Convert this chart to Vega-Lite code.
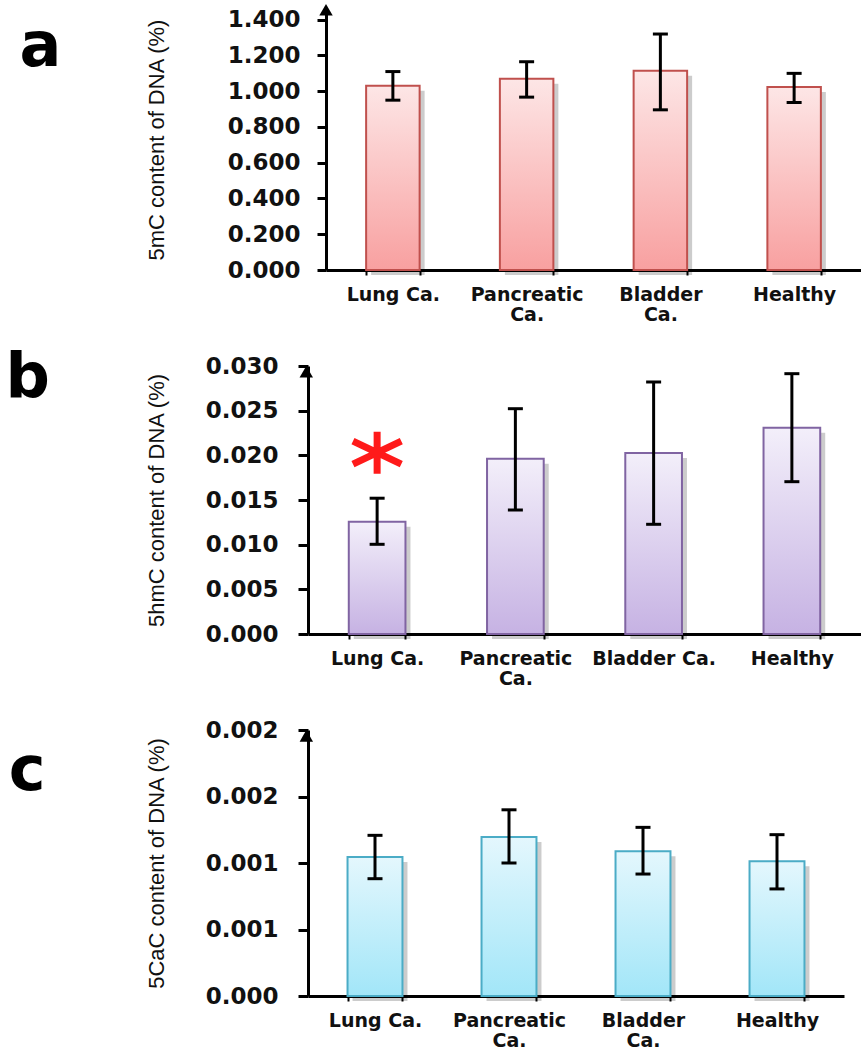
{
  "$schema": "https://vega.github.io/schema/vega-lite/v6.json",
  "padding": {"left": 5, "top": 3, "right": 0, "bottom": 0},
  "background": "white",
  "datasets": {
    "a": [
      {"group": "Lung Ca.", "mean": 1.03, "lo": 0.95, "hi": 1.11},
      {"group": "Pancreatic Ca.", "mean": 1.07, "lo": 0.967, "hi": 1.165},
      {"group": "Bladder Ca.", "mean": 1.114, "lo": 0.896, "hi": 1.32},
      {"group": "Healthy", "mean": 1.023, "lo": 0.937, "hi": 1.10}
    ],
    "b": [
      {"group": "Lung Ca.", "mean": 0.01257, "lo": 0.01004, "hi": 0.0152},
      {"group": "Pancreatic Ca.", "mean": 0.01962, "lo": 0.01388, "hi": 0.02522},
      {"group": "Bladder Ca.", "mean": 0.02026, "lo": 0.01228, "hi": 0.02821},
      {"group": "Healthy", "mean": 0.0231, "lo": 0.01705, "hi": 0.02914}
    ],
    "c": [
      {"group": "Lung Ca.", "mean": 0.001045, "lo": 0.000882, "hi": 0.001208},
      {"group": "Pancreatic Ca.", "mean": 0.001195, "lo": 0.001, "hi": 0.0014},
      {"group": "Bladder Ca.", "mean": 0.001088, "lo": 0.000917, "hi": 0.001268},
      {"group": "Healthy", "mean": 0.001013, "lo": 0.000805, "hi": 0.001213}
    ]
  },
  "columns": 1,
  "bounds": "flush",
  "spacing": 96,
  "concat": [
    {
      "width": 553,
      "height": 261,
      "data": {"name": "a"},
      "title": {"text": "a", "orient": "left", "angle": 0, "anchor": "end", "align": "right", "baseline": "top", "offset": 42, "dy": 13, "font": "DejaVu Sans", "fontWeight": "bold", "fontSize": 62, "color": "#000"},
      "encoding": {
        "x": {"field": "group", "type": "nominal", "sort": null,
          "scale": {"paddingInner": 0.6, "paddingOuter": 0.3, "range": [18, 553]},
          "axis": {"title": null, "labelAngle": 0, "labelFont": "DejaVu Sans", "labelFontWeight": "bold", "labelFontSize": 19, "labelPadding": 10, "labelLineHeight": 20, "tickSize": 5, "tickWidth": 2, "tickBand": "extent",
            "labelExpr": "datum.value == 'Pancreatic Ca.' ? ['Pancreatic', 'Ca.'] : datum.value == 'Bladder Ca.' ? ['Bladder', 'Ca.'] : datum.label"}}
      },
      "layer": [
        {"mark": {"type": "bar", "fill": "#000", "fillOpacity": 0.2, "xOffset": 5, "yOffset": 5},
          "encoding": {"y": {"field": "mean", "type": "quantitative", "scale": {"domain": [0, 1.46], "nice": false},
            "axis": {"title": "5mC content of DNA (%)", "offset": -18, "values": [0, 0.2, 0.4, 0.6, 0.8, 1.0, 1.2, 1.4], "tickCount": 8, "format": ".3f", "titleFont": "Liberation Sans", "titleFontSize": 22, "titleFontWeight": "normal", "titleColor": "#111", "titlePadding": 59, "labelFont": "DejaVu Sans", "labelFontWeight": "bold", "labelFontSize": 23, "labelPadding": 17, "tickSize": 9, "tickWidth": 3, "labelOverlap": false, "labelBound": false}}}},
        {"mark": {"type": "bar", "stroke": "#c0504d", "strokeWidth": 2,
            "fill": {"gradient": "linear", "x1": 0, "y1": 0, "x2": 0, "y2": 1, "stops": [{"offset": 0, "color": "#fde6e6"}, {"offset": 1, "color": "#f8a0a0"}]}},
          "encoding": {"y": {"field": "mean", "type": "quantitative", "title": "5mC content of DNA (%)"}}},
        {"mark": {"type": "rule", "color": "#000", "strokeWidth": 3},
          "encoding": {"y": {"field": "lo", "type": "quantitative", "title": "5mC content of DNA (%)"}, "y2": {"field": "hi"}}},
        {"mark": {"type": "tick", "color": "#000", "thickness": 3, "size": 15, "opacity": 1},
          "encoding": {"y": {"field": "lo", "type": "quantitative", "title": "5mC content of DNA (%)"}}},
        {"mark": {"type": "tick", "color": "#000", "thickness": 3, "size": 15, "opacity": 1},
          "encoding": {"y": {"field": "hi", "type": "quantitative", "title": "5mC content of DNA (%)"}}},
        {"data": {"values": [{"top": 1.456}]},
          "mark": {"type": "point", "shape": "triangle-up", "filled": true, "color": "#000", "size": 180, "opacity": 1},
          "encoding": {"x": {"datum": "Lung Ca.", "bandPosition": -0.75}, "y": {"field": "top", "type": "quantitative", "title": "5mC content of DNA (%)"}}}
      ]
    },
    {
      "width": 553,
      "height": 268,
      "data": {"name": "b"},
      "title": {"text": "b", "orient": "left", "angle": 0, "anchor": "end", "align": "right", "baseline": "top", "offset": 51, "dy": -7, "font": "DejaVu Sans", "fontWeight": "bold", "fontSize": 62, "color": "#000"},
      "encoding": {
        "x": {"field": "group", "type": "nominal", "sort": null,
          "scale": {"paddingInner": 0.59, "paddingOuter": 0.295},
          "axis": {"title": null, "labelAngle": 0, "labelFont": "DejaVu Sans", "labelFontWeight": "bold", "labelFontSize": 19, "labelPadding": 10, "labelLineHeight": 20, "tickSize": 5, "tickWidth": 2, "tickBand": "extent",
            "labelExpr": "datum.value == 'Pancreatic Ca.' ? ['Pancreatic', 'Ca.'] : datum.label"}}
      },
      "layer": [
        {"mark": {"type": "bar", "fill": "#000", "fillOpacity": 0.2, "xOffset": 5, "yOffset": 5},
          "encoding": {"y": {"field": "mean", "type": "quantitative", "scale": {"domain": [0, 0.03], "nice": false},
            "axis": {"title": "5hmC content of DNA (%)", "values": [0, 0.005, 0.01, 0.015, 0.02, 0.025, 0.03], "tickCount": 7, "format": ".3f", "titleFont": "Liberation Sans", "titleFontSize": 22, "titleFontWeight": "normal", "titleColor": "#111", "titlePadding": 37, "labelFont": "DejaVu Sans", "labelFontWeight": "bold", "labelFontSize": 23, "labelPadding": 20, "tickSize": 10, "tickWidth": 3, "labelOverlap": false, "labelBound": false}}}},
        {"mark": {"type": "bar", "stroke": "#8064a2", "strokeWidth": 2,
            "fill": {"gradient": "linear", "x1": 0, "y1": 0, "x2": 0, "y2": 1, "stops": [{"offset": 0, "color": "#f3effa"}, {"offset": 1, "color": "#c6b2e3"}]}},
          "encoding": {"y": {"field": "mean", "type": "quantitative", "title": "5hmC content of DNA (%)"}}},
        {"mark": {"type": "rule", "color": "#000", "strokeWidth": 3},
          "encoding": {"y": {"field": "lo", "type": "quantitative", "title": "5hmC content of DNA (%)"}, "y2": {"field": "hi"}}},
        {"mark": {"type": "tick", "color": "#000", "thickness": 3, "size": 15, "opacity": 1},
          "encoding": {"y": {"field": "lo", "type": "quantitative", "title": "5hmC content of DNA (%)"}}},
        {"mark": {"type": "tick", "color": "#000", "thickness": 3, "size": 15, "opacity": 1},
          "encoding": {"y": {"field": "hi", "type": "quantitative", "title": "5hmC content of DNA (%)"}}},
        {"data": {"values": [{"group": "Lung Ca.", "star": 0.0203}]},
          "mark": {"type": "point", "shape": "M0,-1L0,1M-1.15,-0.55L1.15,0.55M-1.15,0.55L1.15,-0.55", "filled": false, "color": "#ff1a1a", "strokeWidth": 7, "size": 1764, "opacity": 1},
          "encoding": {"y": {"field": "star", "type": "quantitative", "title": "5hmC content of DNA (%)"}}},
        {"data": {"values": [{"top": 0.02935}]},
          "mark": {"type": "point", "shape": "triangle-up", "filled": true, "color": "#000", "size": 180, "opacity": 1},
          "encoding": {"x": {"datum": "Lung Ca.", "bandPosition": -0.75}, "y": {"field": "top", "type": "quantitative", "title": "5hmC content of DNA (%)"}}}
      ]
    },
    {
      "width": 536,
      "height": 266,
      "data": {"name": "c"},
      "title": {"text": "c", "orient": "left", "angle": 0, "anchor": "end", "align": "right", "baseline": "top", "offset": 63, "dy": 22, "font": "DejaVu Sans", "fontWeight": "bold", "fontSize": 62, "color": "#000"},
      "encoding": {
        "x": {"field": "group", "type": "nominal", "sort": null,
          "scale": {"paddingInner": 0.59, "paddingOuter": 0.295},
          "axis": {"title": null, "labelAngle": 0, "labelFont": "DejaVu Sans", "labelFontWeight": "bold", "labelFontSize": 19, "labelPadding": 10, "labelLineHeight": 20, "tickSize": 5, "tickWidth": 2, "tickBand": "extent",
            "labelExpr": "datum.value == 'Pancreatic Ca.' ? ['Pancreatic', 'Ca.'] : datum.value == 'Bladder Ca.' ? ['Bladder', 'Ca.'] : datum.label"}}
      },
      "layer": [
        {"mark": {"type": "bar", "fill": "#000", "fillOpacity": 0.2, "xOffset": 5, "yOffset": 5},
          "encoding": {"y": {"field": "mean", "type": "quantitative", "scale": {"domain": [0, 0.002], "nice": false},
            "axis": {"title": "5CaC content of DNA (%)", "values": [0, 0.0005, 0.001, 0.0015, 0.002], "tickCount": 5, "format": ".3f", "titleFont": "Liberation Sans", "titleFontSize": 22, "titleFontWeight": "normal", "titleColor": "#111", "titlePadding": 37, "labelFont": "DejaVu Sans", "labelFontWeight": "bold", "labelFontSize": 23, "labelPadding": 20, "tickSize": 10, "tickWidth": 3, "labelOverlap": false, "labelBound": false}}}},
        {"mark": {"type": "bar", "stroke": "#4bacc6", "strokeWidth": 2,
            "fill": {"gradient": "linear", "x1": 0, "y1": 0, "x2": 0, "y2": 1, "stops": [{"offset": 0, "color": "#e4f7fd"}, {"offset": 1, "color": "#a2e6f8"}]}},
          "encoding": {"y": {"field": "mean", "type": "quantitative", "title": "5CaC content of DNA (%)"}}},
        {"mark": {"type": "rule", "color": "#000", "strokeWidth": 3},
          "encoding": {"y": {"field": "lo", "type": "quantitative", "title": "5CaC content of DNA (%)"}, "y2": {"field": "hi"}}},
        {"mark": {"type": "tick", "color": "#000", "thickness": 3, "size": 15, "opacity": 1},
          "encoding": {"y": {"field": "lo", "type": "quantitative", "title": "5CaC content of DNA (%)"}}},
        {"mark": {"type": "tick", "color": "#000", "thickness": 3, "size": 15, "opacity": 1},
          "encoding": {"y": {"field": "hi", "type": "quantitative", "title": "5CaC content of DNA (%)"}}},
        {"data": {"values": [{"top": 0.001956}]},
          "mark": {"type": "point", "shape": "triangle-up", "filled": true, "color": "#000", "size": 180, "opacity": 1},
          "encoding": {"x": {"datum": "Lung Ca.", "bandPosition": -0.75}, "y": {"field": "top", "type": "quantitative", "title": "5CaC content of DNA (%)"}}}
      ]
    }
  ],
  "config": {
    "view": {"stroke": null},
    "axis": {"domainColor": "#000", "domainWidth": 3, "tickColor": "#000", "grid": false, "labelColor": "#111"}
  }
}
